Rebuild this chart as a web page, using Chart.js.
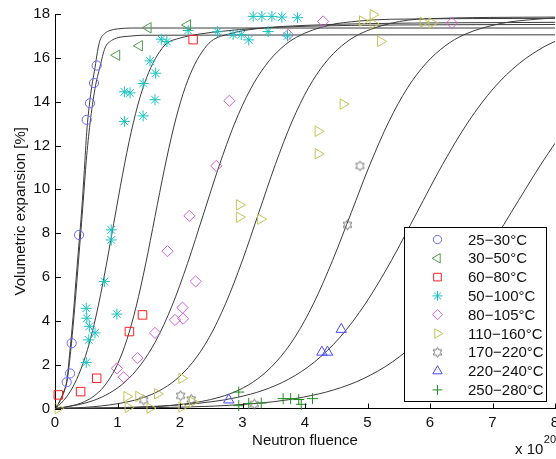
<!DOCTYPE html>
<html><head><meta charset="utf-8">
<script src="https://cdn.jsdelivr.net/npm/chart.js@4/dist/chart.umd.min.js"></script>
<style>html,body{margin:0;padding:0;background:#fff;}</style>
</head><body>
<canvas id="c" width="556" height="459"></canvas>
<script>
// ---------- measured data ----------
const groupLabels = ['25\u221230\u00B0C','30\u221250\u00B0C','60\u221280\u00B0C','50\u2212100\u00B0C','80\u2212105\u00B0C','110\u2212160\u00B0C','170\u2212220\u00B0C','220\u2212240\u00B0C','250\u2212280\u00B0C'];
const xTicks = [0,1,2,3,4,5,6,7,8];
const yTicks = [0,2,4,6,8,10,12,14,16,18];

const circX = [0.187,0.24,0.267,0.384,0.507,0.56,0.624,0.667];
const circY = [1.2,1.6,2.98,7.92,13.17,13.93,14.85,15.65];
const ltriX = [0.987,1.35,1.49,2.12];
const ltriY = [16.12,16.55,17.37,17.5];
const sqrX = [0.053,0.41,0.667,1.19,1.40,2.21];
const sqrY = [0.62,0.77,1.38,3.51,4.27,16.83];
const starX = [0.50,0.54,0.64,0.55,0.51,0.50,0.79,0.99,0.90,0.90,1.11,1.41,1.11,1.20,1.41,1.60,1.61,1.52,1.70,1.79,2.13,2.60,2.85,2.98,3.10,3.41,3.72,3.17,3.31,3.47,3.63,3.88];
const starY = [2.1,3.13,3.45,3.75,4.12,4.57,5.79,4.31,7.69,8.15,13.1,13.35,14.45,14.4,14.83,14.09,15.3,15.86,16.85,16.74,17.25,17.19,17.06,17.06,16.82,17.2,17.0,17.89,17.89,17.89,17.86,17.83];
const diaX = [0.99,1.10,1.32,1.60,1.92,2.05,2.04,1.80,2.25,2.15,2.58,2.79,3.73,4.29,6.35];
const diaY = [1.83,1.43,2.30,3.45,4.04,4.10,4.60,7.18,5.80,8.79,11.07,14.04,17.05,17.66,17.59];
const rtriX = [0.05,1.15,1.17,1.34,1.52,1.64,2.03,2.03,2.20,2.95,2.95,3.29,4.21,4.21,4.61,4.92,5.09,5.09,5.21,5.89,6.03];
const rtriY = [0.0,0.54,0.05,0.55,0.02,0.67,1.38,0.07,0.30,9.29,8.73,8.64,11.62,12.65,13.89,17.68,17.97,17.55,16.75,17.62,17.59];
const hexX = [1.42,2.01,2.18,3.19,4.68,4.88];
const hexY = [0.39,0.58,0.41,0.20,8.38,11.07];
const utriX = [2.78,4.27,4.36,4.58];
const utriY = [0.39,2.57,2.57,3.61];
const plusX = [2.94,2.94,3.10,3.30,3.65,3.77,3.90,3.94,4.12];
const plusY = [0.75,0.13,0.23,0.25,0.45,0.45,0.41,0.19,0.45];

// fitted curves
const fit1X = [0,0.05,0.1,0.15,0.187,0.24,0.29,0.336,0.38,0.427,0.47,0.507,0.56,0.6,0.64,0.68,0.72,0.8,0.88,1.0,1.23,8];
const fit1Y = [0,0.2,0.5,0.85,1.2,2.67,4.2,5.87,7.4,9.06,10.9,12.6,14.1,14.9,15.55,16.3,16.8,17.12,17.25,17.32,17.36,17.36];
const fit2X = [0,0.05,0.1,0.15,0.2,0.25,0.3,0.35,0.4,0.45,0.5,0.56,0.64,0.72,0.8,0.9,1.01,1.2,1.39,8];
const fit2Y = [0,0.2,0.45,0.8,1.4,2.6,4.1,5.8,7.6,9.4,11.3,13.0,14.6,15.6,16.45,16.78,16.92,16.99,17.03,17.05];
const fit3X = [0,0.10,0.24,0.38,0.52,0.66,0.80,0.94,1.08,1.22,1.36,1.50,1.64,1.78,2.0,2.3,2.7,3.2,4.0,5.5,8];
const fit3Y = [0,0.25,0.76,1.55,2.69,4.26,6.23,8.45,10.66,12.63,14.2,15.34,16.13,16.64,16.9,17.08,17.22,17.34,17.44,17.5,17.52];
const fit4X = [0,0.1,0.4,0.55,0.7,0.85,1.0,1.15,1.3,1.45,1.6,1.75,1.9,2.05,2.2,2.35,2.5,2.8,3.2,4.0,5.0,8];
const fit4Y = [0,0.03,0.23,0.43,0.75,1.26,2.02,3.14,4.67,6.59,8.76,10.92,12.84,14.37,15.49,16.26,16.76,17.1,17.32,17.48,17.56,17.62];
const fit5X = [0,0.37,0.62,0.87,1.12,1.37,1.62,1.87,2.12,2.37,2.62,2.87,3.12,3.37,3.62,3.87,4.37,4.87,5.37,8];
const fit5Y = [0,0.17,0.37,0.70,1.21,1.99,3.12,4.67,6.62,8.82,11.02,12.98,14.53,15.66,16.44,16.95,17.48,17.68,17.76,17.8];
const fit6X = [0,0.61,1.14,1.405,1.67,1.935,2.2,2.465,2.73,2.995,3.26,3.525,3.79,4.055,4.32,4.585,4.85,5.38,5.91,8];
const fit6Y = [0,0.08,0.29,0.49,0.81,1.32,2.10,3.23,4.79,6.73,8.93,11.13,13.08,14.63,15.76,16.54,17.05,17.58,17.78,17.86];
const fit7X = [0,0.54,1.14,1.74,2.34,2.64,2.94,3.24,3.54,3.84,4.14,4.44,4.74,5.04,5.34,5.64,5.94,6.24,6.54,7.14,7.74,8];
const fit7Y = [0,0.01,0.04,0.11,0.32,0.52,0.84,1.35,2.13,3.26,4.81,6.75,8.94,11.14,13.08,14.63,15.76,16.54,17.05,17.57,17.77,17.82];
const fit8X = [0,0.87,1.69,2.51,2.92,3.33,3.74,4.15,4.56,4.97,5.38,5.79,6.2,6.61,7.02,7.43,7.84,8];
const fit8Y = [0,0.03,0.11,0.31,0.51,0.83,1.34,2.12,3.25,4.80,6.74,8.94,11.13,13.07,14.62,15.75,16.53,16.75];
const fit9X = [0,0.65,1.6,2.55,3.5,3.975,4.45,4.925,5.4,5.875,6.35,6.825,7.3,7.775,8];
const fit9Y = [0,0.01,0.04,0.11,0.31,0.52,0.84,1.35,2.13,3.26,4.81,6.75,8.95,11.14,12.1];

// ---------- helpers ----------
const pts = (xs, ys) => xs.map((x, i) => ({x, y: ys[i]}));
const FONT = "'Liberation Sans', Arial, sans-serif";

function hexagram(color) {
  const s = 13, c = document.createElement('canvas');
  c.width = s; c.height = s;
  const g = c.getContext('2d');
  g.strokeStyle = color; g.lineWidth = 1;
  const R = 5, r = R / Math.sqrt(3), cx = s / 2, cy = s / 2;
  g.beginPath();
  for (let k = 0; k < 12; k++) {
    const a = -Math.PI / 2 + k * Math.PI / 6;
    const rr = k % 2 ? r : R;
    const px = cx + rr * Math.cos(a), py = cy + rr * Math.sin(a);
    k ? g.lineTo(px, py) : g.moveTo(px, py);
  }
  g.closePath(); g.stroke();
  return c;
}

const styles = [
  {c: '#6a6aff', s: 'circle', r: 4.6, rot: 0},
  {c: '#4f9a4f', s: 'triangle', r: 6, rot: -90},
  {c: '#ff2020', s: 'rect', r: 6, rot: 0},
  {c: '#1cc3c3', s: 'star', r: 5.5, rot: 0},
  {c: '#d062d8', s: 'rectRot', r: 5.6, rot: 0},
  {c: '#c4c45a', s: 'triangle', r: 6, rot: 90},
  {c: '#777777', s: hexagram('#777777'), r: 5, rot: 0},
  {c: '#4a4aff', s: 'triangle', r: 6, rot: 0},
  {c: '#1f8f1f', s: 'cross', r: 5.5, rot: 0}
];
const markerData = [pts(circX, circY), pts(ltriX, ltriY), pts(sqrX, sqrY), pts(starX, starY), pts(diaX, diaY), pts(rtriX, rtriY), pts(hexX, hexY), pts(utriX, utriY), pts(plusX, plusY)];

const datasets = markerData.map((d, i) => ({
  label: groupLabels[i], data: d, showLine: false, clip: false,
  pointStyle: styles[i].s, pointRadius: styles[i].r, pointRotation: styles[i].rot,
  pointBorderColor: styles[i].c, pointBackgroundColor: 'rgba(0,0,0,0)', pointBorderWidth: 1,
  pointHoverRadius: styles[i].r
}));
const fits = [[fit1X, fit1Y], [fit2X, fit2Y], [fit3X, fit3Y], [fit4X, fit4Y], [fit5X, fit5Y], [fit6X, fit6Y], [fit7X, fit7Y], [fit8X, fit8Y], [fit9X, fit9Y]];
fits.forEach(([xs, ys], i) => datasets.push({
  label: 'fit' + (i + 1), data: pts(xs, ys), showLine: true, pointRadius: 0,
  borderColor: '#3c3c3c', borderWidth: 1, cubicInterpolationMode: 'monotone', fill: false
}));

// ---------- plugins ----------
const inwardTicks = {
  id: 'inwardTicks',
  afterDatasetsDraw(chart) {
    const {ctx, chartArea: a, scales: {x, y}} = chart;
    ctx.save();
    ctx.strokeStyle = '#000'; ctx.lineWidth = 1;
    ctx.beginPath();
    x.ticks.forEach(t => {
      const px = Math.round(x.getPixelForValue(t.value)) + 0.5;
      ctx.moveTo(px, a.bottom); ctx.lineTo(px, a.bottom - 5);
    });
    y.ticks.forEach(t => {
      const py = Math.round(y.getPixelForValue(t.value)) + 0.5;
      ctx.moveTo(a.left, py); ctx.lineTo(a.left + 6, py);
    });
    ctx.stroke();
    ctx.restore();
  }
};

const boxLegend = {
  id: 'boxLegend',
  afterDatasetsDraw(chart) {
    const ctx = chart.ctx;
    const L = 404.5, T = 227.5, W = 142, H = 174;
    ctx.save();
    ctx.fillStyle = '#fff';
    ctx.fillRect(L, T, W, H);
    ctx.strokeStyle = '#000'; ctx.lineWidth = 1;
    ctx.strokeRect(L, T, W, H);
    ctx.font = '15px ' + FONT;
    ctx.textBaseline = 'middle'; ctx.textAlign = 'left';
    for (let i = 0; i < groupLabels.length; i++) {
      const cy = 239.5 + i * 18.8;
      const st = styles[i];
      ctx.strokeStyle = st.c; ctx.fillStyle = 'rgba(0,0,0,0)'; ctx.lineWidth = 1;
      Chart.helpers.drawPoint(ctx, {pointStyle: st.s, radius: st.r * 0.9, rotation: st.rot, borderWidth: 1}, 437.5, cy);
      ctx.fillStyle = '#111';
      ctx.fillText(groupLabels[i], 468, cy + 1);
    }
    ctx.restore();
  }
};

const exponent = {
  id: 'exponent',
  afterDraw(chart) {
    const ctx = chart.ctx;
    ctx.save();
    ctx.fillStyle = '#111'; ctx.textBaseline = 'alphabetic'; ctx.textAlign = 'left';
    ctx.font = '15px ' + FONT;
    const base = 'x 10';
    ctx.fillText(base, 515, 454);
    const w = ctx.measureText(base).width;
    ctx.font = '11px ' + FONT;
    ctx.fillText('20', 515 + w + 0.5, 443);
    ctx.restore();
  }
};

new Chart(document.getElementById('c'), {
  type: 'scatter',
  data: {datasets},
  options: {
    responsive: false, animation: false, devicePixelRatio: 1,
    layout: {autoPadding: false, padding: {top: 14, right: 1, left: 0, bottom: 0}},
    plugins: {legend: {display: false}, tooltip: {enabled: false}},
    scales: {
      x: {
        type: 'linear', min: 0, max: 8,
        afterBuildTicks: s => { s.ticks = xTicks.map(v => ({value: v})); },
        afterFit: s => { s.height = 50.5; s.paddingLeft = 0; s.paddingRight = 0; },
        grid: {display: false, drawTicks: false},
        border: {display: true, color: '#000', width: 1},
        ticks: {color: '#111', font: {family: FONT, size: 15}, padding: 5, maxRotation: 0, autoSkip: false},
        title: {display: true, text: 'Neutron fluence', color: '#111', font: {family: FONT, size: 15}, padding: {top: 0, bottom: 9}}
      },
      y: {
        type: 'linear', min: 0, max: 18,
        afterBuildTicks: s => { s.ticks = yTicks.map(v => ({value: v})); },
        afterFit: s => { s.width = 55; s.paddingTop = 0; s.paddingBottom = 0; },
        grid: {display: false, drawTicks: false},
        border: {display: true, color: '#000', width: 1},
        ticks: {color: '#111', font: {family: FONT, size: 15}, padding: 5, autoSkip: false},
        title: {display: true, text: 'Volumetric expansion [%]', color: '#111', font: {family: FONT, size: 15}, padding: {top: 12, bottom: 0}}
      }
    }
  },
  plugins: [inwardTicks, boxLegend, exponent]
});
</script>
</body></html>
